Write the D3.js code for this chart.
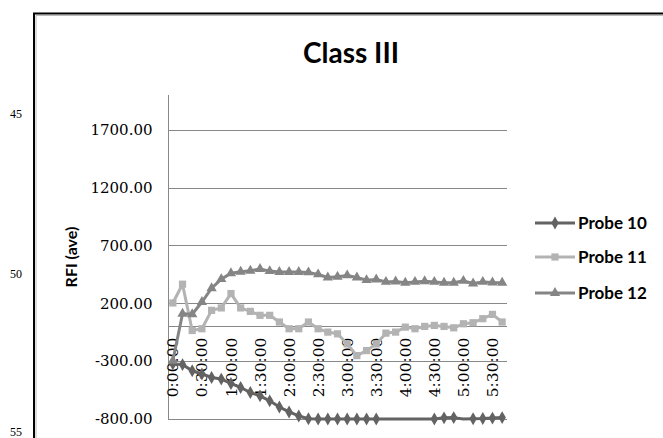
<!DOCTYPE html>
<html>
<head>
<meta charset="utf-8">
<script src="https://cdn.jsdelivr.net/npm/d3@7/dist/d3.min.js"></script>
<style>
  body { margin: 0; background: #fff; }
  svg { display: block; }
</style>
</head>
<body>
<svg id="chart" width="663" height="438"></svg>
<script>
// categories: every 10 minutes from 0:00:00 to 5:40:00
var times = ['0:00:00','0:10:00','0:20:00','0:30:00','0:40:00','0:50:00',
  '1:00:00','1:10:00','1:20:00','1:30:00','1:40:00','1:50:00',
  '2:00:00','2:10:00','2:20:00','2:30:00','2:40:00','2:50:00',
  '3:00:00','3:10:00','3:20:00','3:30:00','3:40:00','3:50:00',
  '4:00:00','4:10:00','4:20:00','4:30:00','4:40:00','4:50:00',
  '5:00:00','5:10:00','5:20:00','5:30:00','5:40:00']
var tickLabels = ['0:00:00','0:30:00','1:00:00','1:30:00','2:00:00','2:30:00',
  '3:00:00','3:30:00','4:00:00','4:30:00','5:00:00','5:30:00']
var yTicks = [-800, -300, 200, 700, 1200, 1700]
var seriesNames = ['Probe 10', 'Probe 11', 'Probe 12']

var probe10 = [-324,-330,-383,-411,-441,-455,-493,-528,-571,-600,-643,-696,
  -739,-774,-798,-800,-800,-800,-800,-800,-800,-800,-830,-830,
  -830,-830,-830,-800,-790,-788,-830,-798,-796,-792,-788]
var probe11 = [203,365,-35,-20,139,160,284,160,130,96,96,38,
  -20,-20,38,-20,-49,-64,-151,-252,-209,-151,-58,-49,
  -6,-20,0,9,0,-12,23,32,67,104,38]
var probe12 = [-296,110,105,211,330,409,460,472,481,496,478,471,
  471,471,467,450,423,430,441,423,400,406,385,388,
  377,385,391,385,377,377,394,371,385,380,377]

var svg = d3.select('#chart')

// page frame and line numbers
svg.append('path')
  .attr('d', 'M34,438V13.5H663')
  .attr('fill', 'none')
  .attr('stroke', '#000')
  .attr('stroke-width', 2)
svg.append('path')
  .attr('d', 'M36,438V15.5H663')
  .attr('fill', 'none')
  .attr('stroke', '#bbb')
  .attr('stroke-width', 1)

var lineNums = [['45', 118], ['50', 278], ['55', 436]]
lineNums.forEach(function(d) {
  svg.append('text')
    .attr('x', 10).attr('y', d[1])
    .style('font-family', 'Liberation Serif')
    .style('font-size', '12px')
    .text(d[0])
})

// title
svg.append('text')
  .attr('x', 351).attr('y', 63)
  .attr('text-anchor', 'middle')
  .style('font-family', 'Lato')
  .style('font-weight', 'bold')
  .style('font-size', '28px')
  .text('Class III')

var plotLeft = 168, plotRight = 507, plotTop = 95, plotBottom = 419

var x = d3.scaleBand().domain(times).range([plotLeft, plotRight]).padding(0)
var y = d3.scaleLinear().domain([-800, 2000]).range([plotBottom, plotTop])
var yc = y.copy().clamp(true)
var cx = function(t) { return x(t) + x.bandwidth() / 2 }

// gridlines
svg.append('g')
  .selectAll('line')
  .data(yTicks)
  .enter()
  .append('line')
  .attr('x1', plotLeft).attr('x2', plotRight)
  .attr('y1', d => Math.round(y(d)) + 0.5).attr('y2', d => Math.round(y(d)) + 0.5)
  .attr('stroke', '#888')
  .attr('stroke-width', 1)

// y axis (plain hyphen for negatives, like the original)
var yAxis = d3.axisLeft(y)
  .tickValues(yTicks)
  .tickSize(0)
  .tickPadding(16)
  .tickFormat(d => d.toFixed(2))
var gy = svg.append('g')
  .attr('transform', 'translate(' + (plotLeft + 0.5) + ',0)')
  .call(yAxis)
gy.select('.domain').remove()
gy.selectAll('text')
  .style('font-family', 'DejaVu Serif')
  .style('font-size', '15px')
  .attr('fill', '#000')
svg.append('line')
  .attr('x1', plotLeft + 0.5).attr('x2', plotLeft + 0.5)
  .attr('y1', plotTop).attr('y2', plotBottom)
  .attr('stroke', '#888')

svg.append('text')
  .attr('transform', 'translate(77,257) rotate(-90)')
  .attr('text-anchor', 'middle')
  .style('font-family', 'Lato')
  .style('font-weight', 'bold')
  .style('font-size', '16px')
  .text('RFI (ave)')

// x axis crossing at 0
var y0 = Math.round(y(0)) + 0.5
svg.append('line')
  .attr('x1', plotLeft).attr('x2', plotRight)
  .attr('y1', y0).attr('y2', y0)
  .attr('stroke', '#888')

svg.append('g')
  .selectAll('text')
  .data(tickLabels)
  .enter()
  .append('text')
  .attr('transform', d => 'translate(' + cx(d) + ',' + (y0 + 11) + ') rotate(-90)')
  .attr('text-anchor', 'end')
  .attr('dy', '0.36em')
  .style('font-family', 'DejaVu Serif')
  .style('font-size', '15.5px')
  .text(d => d)

// series
var series = [
  { name: seriesNames[0], values: probe10, color: '#636363', symbol: d3.symbolDiamond, size: 48 },
  { name: seriesNames[1], values: probe11, color: '#b3b3b3', symbol: d3.symbolSquare, size: 52 },
  { name: seriesNames[2], values: probe12, color: '#858585', symbol: d3.symbolTriangle, size: 46 }
]

var line = d3.line()
  .x((d, i) => cx(times[i]))
  .y(d => yc(d))

series.forEach(function(s) {
  var g = svg.append('g')
  g.append('path')
    .datum(s.values)
    .attr('d', line)
    .attr('fill', 'none')
    .attr('stroke', s.color)
    .attr('stroke-width', 3)
    .attr('stroke-linejoin', 'round')
  g.selectAll('path.mark')
    .data(s.values.map((v, i) => [times[i], v]).filter(d => d[1] >= -800))
    .enter()
    .append('path')
    .attr('class', 'mark')
    .attr('d', d3.symbol().type(s.symbol).size(s.size))
    .attr('transform', d => 'translate(' + cx(d[0]) + ',' + y(d[1]) + ')')
    .attr('fill', s.color)
})

// legend
var legendY = [223, 257, 293]
series.forEach(function(s, i) {
  var g = svg.append('g').attr('transform', 'translate(0,' + legendY[i] + ')')
  g.append('line')
    .attr('x1', 535).attr('x2', 575)
    .attr('stroke', s.color)
    .attr('stroke-width', 3)
  g.append('path')
    .attr('d', d3.symbol().type(s.symbol).size(s.size))
    .attr('transform', 'translate(555,0)')
    .attr('fill', s.color)
  g.append('text')
    .attr('x', 578)
    .attr('dy', '0.35em')
    .style('font-family', 'Lato')
    .style('font-weight', 'bold')
    .style('font-size', '17px')
    .text(s.name)
})
</script>
</body>
</html>
